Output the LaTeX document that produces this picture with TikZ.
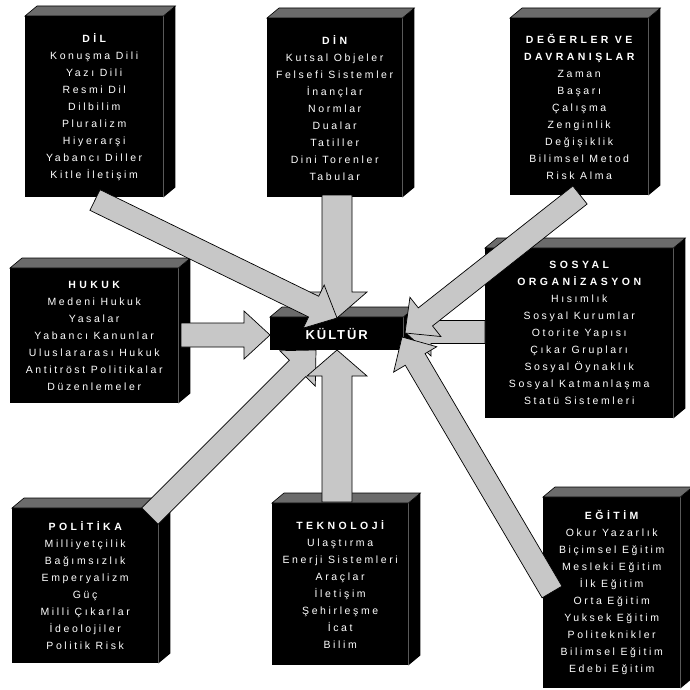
\documentclass[tikz,border=0pt]{standalone}
\usepackage{fontspec}
\setmainfont{Liberation Sans}
\newfontfamily\boxfont[LetterSpace=25]{Liberation Sans}
\usetikzlibrary{calc}
\tikzset{
  box/.style={fill=black, text=white, inner sep=0pt, align=center, anchor=north west,
    font=\boxfont\fontsize{10.5}{17}\selectfont},
  topface/.style={fill=black!58, draw=black, line width=0.6pt},
  blockarr/.style={fill=black!22, draw=black, line width=0.7pt, line join=miter},
}
\newcommand\ttl[1]{{\bfseries\addfontfeature{LetterSpace=33}#1}}
\newcommand\solid[1]{%
  \fill[black] (#1.north east) -- ++(12,-10) -- ($(#1.south east)+(12,-10)$) -- (#1.south east) -- cycle;
  \filldraw[topface] (#1.north west) -- ++(12,-10) -- ($(#1.north east)+(12,-10)$) -- (#1.north east) -- cycle;}
\newcommand\barrow[4]{%
  \coordinate (#1-#2-h) at ($(#2)!26pt!(#1)$);
  \draw[blockarr] ($(#1)!#3!90:(#2)$) -- ($(#1-#2-h)!#3!90:(#2)$) -- ($(#1-#2-h)!#4!90:(#2)$)
    -- (#2) -- ($(#1-#2-h)!#4!-90:(#2)$) -- ($(#1-#2-h)!#3!-90:(#2)$) -- ($(#1)!#3!-90:(#2)$) -- cycle;}
\begin{document}
\begin{tikzpicture}[x=1pt,y=-1pt]
\useasboundingbox[fill=white] (0,0) rectangle (690,690);

\node[box, minimum width=138pt, minimum height=181pt] (dil) at (25,16)
  {\ttl{DİL}\\Konuşma Dili\\Yazı Dili\\Resmi Dil\\Dilbilim\\Pluralizm\\Hiyerarşi\\Yabancı Diller\\Kitle İletişim};
\node[box, minimum width=135pt, minimum height=179pt] (din) at (267,18)
  {\ttl{DİN}\\Kutsal Objeler\\Felsefi Sistemler\\İnançlar\\Normlar\\Dualar\\Tatiller\\Dini Torenler\\Tabular};
\node[box, minimum width=138pt, minimum height=177pt] (deg) at (510,18)
  {\ttl{DEĞERLER VE}\\\ttl{DAVRANIŞLAR}\\Zaman\\Başarı\\Çalışma\\Zenginlik\\Değişiklik\\Bilimsel Metod\\Risk Alma};
\node[box, minimum width=168pt, minimum height=135pt] (huk) at (10,268)
  {\ttl{HUKUK}\\Medeni Hukuk\\Yasalar\\Yabancı Kanunlar\\Uluslararası Hukuk\\Antitröst Politikalar\\Düzenlemeler};
\node[box, minimum width=188pt, minimum height=170pt] (sos) at (485,248)
  {\ttl{SOSYAL}\\\ttl{ORGANİZASYON}\\Hısımlık\\Sosyal Kurumlar\\Otorite Yapısı\\Çıkar Grupları\\Sosyal Öynaklık\\Sosyal Katmanlaşma\\Statü Sistemleri};
\node[box, minimum width=133pt, minimum height=33pt] (kul) at (270,317)
  {\fontsize{13}{15}\selectfont\bfseries\addfontfeature{LetterSpace=15}KÜLTÜR};
\node[box, minimum width=146pt, minimum height=155pt] (pol) at (12,508)
  {\ttl{POLİTİKA}\\Milliyetçilik\\Bağımsızlık\\Emperyalizm\\Güç\\Milli Çıkarlar\\İdeolojiler\\Politik Risk};
\node[box, minimum width=136pt, minimum height=162pt] (tek) at (272,503)
  {\ttl{TEKNOLOJİ}\\Ulaştırma\\Enerji Sistemleri\\Araçlar\\İletişim\\Şehirleşme\\İcat\\Bilim};
\node[box, minimum width=137pt, minimum height=191pt] (egt) at (543,497)
  {\ttl{EĞİTİM}\\Okur Yazarlık\\Biçimsel Eğitim\\Mesleki Eğitim\\İlk Eğitim\\Orta Eğitim\\Yuksek Eğitim\\Politeknikler\\Bilimsel Eğitim\\Edebi Eğitim};

\foreach \b in {dil,din,deg,huk,sos,kul,pol,tek,egt} {\solid{\b}}

\coordinate (dinT) at (337,195);  \coordinate (dinK) at (337,318);
\coordinate (dilT) at (95,200);   \coordinate (dilK) at (337,318);
\coordinate (hukT) at (181,335);  \coordinate (hukK) at (270,335);
\coordinate (sosT) at (485,332);  \coordinate (sosK) at (405,332);
\coordinate (degT) at (580,195);  \coordinate (degK) at (405,333);
\coordinate (polT) at (150,516);  \coordinate (polK) at (316,350);
\coordinate (tekT) at (337,502);  \coordinate (tekK) at (337,350);
\coordinate (egtT) at (552,592);  \coordinate (egtK) at (402,337);

\barrow{dinT}{dinK}{15pt}{30pt}
\barrow{dilT}{dilK}{11.5pt}{24pt}
\barrow{hukT}{hukK}{12pt}{24pt}
\barrow{sosT}{sosK}{11.5pt}{24pt}
\barrow{degT}{degK}{11.5pt}{25pt}
\barrow{polT}{polK}{11.5pt}{25pt}
\barrow{tekT}{tekK}{15pt}{30pt}
\barrow{egtT}{egtK}{11.5pt}{25pt}
\end{tikzpicture}
\end{document}
